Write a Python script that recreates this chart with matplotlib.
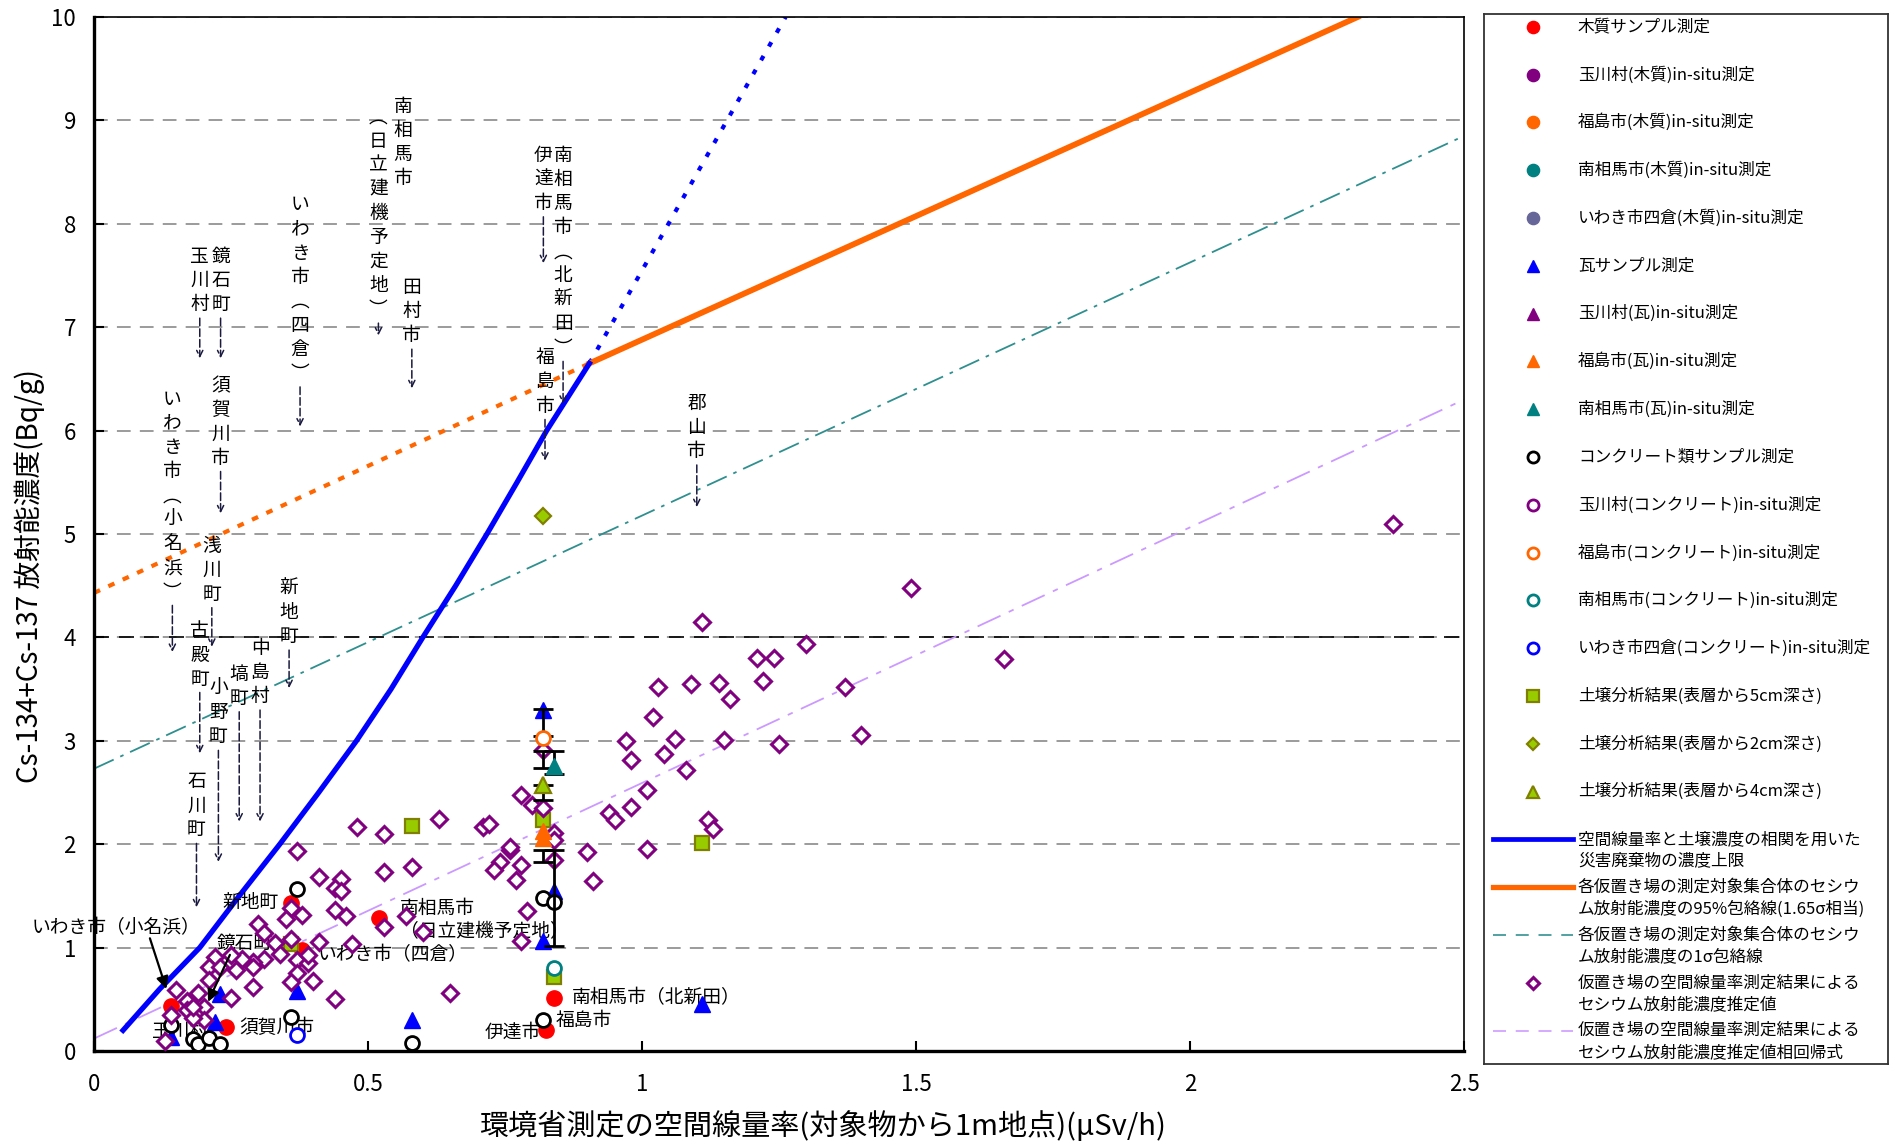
import matplotlib
matplotlib.use('Agg')
import matplotlib.pyplot as plt
import numpy as np

plt.rcParams['font.family'] = ['Noto Sans CJK JP', 'DejaVu Sans']

# ---------------- data ----------------
wood_x = [0.14, 0.24, 0.36, 0.38, 0.52, 0.84, 0.825]
wood_y = [0.44, 0.23, 1.43, 0.98, 1.29, 0.51, 0.20]

tile_x = [0.14, 0.22, 0.23, 0.37, 0.58, 0.82, 0.82, 0.84, 1.11]
tile_y = [0.14, 0.28, 0.55, 0.58, 0.30, 3.30, 1.06, 1.55, 0.45]

fuku_tile_x = [0.82, 0.82]
fuku_tile_y = [2.13, 2.06]
minami_tile_x = [0.84]
minami_tile_y = [2.76]

conc_x = [0.14, 0.18, 0.19, 0.21, 0.23, 0.36, 0.37, 0.58, 0.82, 0.82, 0.84]
conc_y = [0.25, 0.12, 0.07, 0.13, 0.07, 0.33, 1.57, 0.08, 0.30, 1.48, 1.44]
fuku_conc_x = [0.82]
fuku_conc_y = [3.03]
minami_conc_x = [0.84]
minami_conc_y = [0.80]
iwaki_conc_x = [0.37]
iwaki_conc_y = [0.15]

soil5_x = [0.36, 0.58, 0.82, 0.84, 1.11]
soil5_y = [1.03, 2.18, 2.23, 0.72, 2.01]
soil2_x = [0.82]
soil2_y = [5.17]
soil4_x = [0.82]
soil4_y = [2.57]

est_x = [2.37, 1.49, 1.11, 1.30, 1.66, 1.21, 1.24, 1.03, 1.09, 1.14, 1.22, 1.16, 1.37,
         1.02, 1.06, 1.15, 1.25, 1.40, 1.04, 1.08, 1.01, 1.12, 1.13, 1.01,
         0.97, 0.98, 0.94, 0.95, 0.98, 0.90, 0.91, 0.78, 0.80, 0.82, 0.82, 0.84, 0.84,
         0.84, 0.63, 0.71, 0.72, 0.76, 0.76, 0.74, 0.73, 0.78, 0.77, 0.58, 0.53, 0.53,
         0.79, 0.78, 0.60, 0.53, 0.65,
         0.48, 0.37, 0.41, 0.45, 0.44, 0.45, 0.44, 0.46, 0.36, 0.35, 0.38, 0.30, 0.31,
         0.57, 0.47, 0.41, 0.36, 0.33, 0.34, 0.31, 0.29, 0.27, 0.25, 0.22, 0.21, 0.23,
         0.26, 0.29, 0.37, 0.39, 0.39, 0.37, 0.36, 0.40, 0.29, 0.44, 0.25, 0.21, 0.19,
         0.17, 0.20, 0.15, 0.14, 0.17, 0.20, 0.13, 0.18, 0.18]
est_y = [5.10, 4.48, 4.15, 3.94, 3.79, 3.80, 3.80, 3.52, 3.55, 3.56, 3.58, 3.40, 3.52,
         3.23, 3.02, 3.01, 2.97, 3.06, 2.87, 2.72, 2.52, 2.23, 2.15, 1.95,
         3.00, 2.81, 2.30, 2.23, 2.36, 1.92, 1.64, 2.48, 2.38, 2.35, 2.91, 2.11, 2.04,
         1.85, 2.24, 2.17, 2.20, 1.94, 1.97, 1.83, 1.75, 1.80, 1.65, 1.78, 2.10, 1.73,
         1.35, 1.06, 1.15, 1.20, 0.56,
         2.17, 1.93, 1.68, 1.66, 1.58, 1.55, 1.36, 1.31, 1.38, 1.28, 1.32, 1.23, 1.14,
         1.31, 1.03, 1.05, 1.08, 1.04, 0.94, 0.89, 0.86, 0.89, 0.93, 0.91, 0.81, 0.81,
         0.78, 0.81, 0.88, 0.85, 0.93, 0.75, 0.67, 0.68, 0.62, 0.50, 0.51, 0.69, 0.56,
         0.48, 0.43, 0.59, 0.35, 0.40, 0.30, 0.10, 0.32, 0.43]

# error bars (x, lower, upper)
eb_x = [0.82, 0.82, 0.84, 0.82, 0.82, 0.84]
eb_lo = [3.05, 2.74, 2.68, 2.43, 1.83, 1.02]
eb_hi = [3.31, 2.90, 2.90, 2.57, 1.94, 1.94]

# lines
upper_x = [0.053, 0.120, 0.193, 0.265, 0.339, 0.410, 0.479, 0.542, 0.600, 0.660,
           0.717, 0.772, 0.826, 0.904]
upper_y = [0.20, 0.60, 1.00, 1.50, 2.00, 2.50, 3.00, 3.50, 4.00, 4.50,
           5.00, 5.50, 6.00, 6.65]
upper_ext_x = [0.904, 1.262]
upper_ext_y = [6.65, 10.0]
env95_x = [0.904, 2.306]
env95_y = [6.65, 10.0]
env95_ext_x = [0.0, 0.904]
env95_ext_y = [4.43, 6.65]
env1s_x = [0.0, 2.5]
env1s_y = [2.73, 8.85]
reg_x = [0.0, 2.5]
reg_y = [0.12, 6.30]

x_ticks = [0, 0.5, 1, 1.5, 2, 2.5]
x_ticklabels = ['0', '0.5', '1', '1.5', '2', '2.5']
y_ticks = list(range(11))

# vertical annotations: (text, x, top y, arrow target y)
vlabels = [
    ('玉川村', 0.193, 7.80, 6.70),
    ('鏡石町', 0.231, 7.80, 6.70),
    ('須賀川市', 0.231, 6.55, 5.20),
    ('いわき市︵小名浜︶', 0.143, 6.42, 3.86),
    ('いわき市︵四倉︶', 0.376, 8.30, 6.04),
    ('南相馬市', 0.564, 9.25, None),
    ('︵日立建機予定地︶', 0.519, 9.15, 6.92),
    ('田村市', 0.580, 7.50, 6.41),
    ('伊達市', 0.820, 8.78, 7.62),
    ('南相馬市︵北新田︶', 0.856, 8.78, 6.26),
    ('福島市', 0.823, 6.82, 5.71),
    ('郡山市', 1.100, 6.38, 5.26),
    ('浅川町', 0.215, 5.00, 3.91),
    ('古殿町', 0.193, 4.18, 2.88),
    ('小野町', 0.227, 3.62, 1.83),
    ('石川町', 0.187, 2.72, 1.39),
    ('塙町', 0.265, 3.76, 2.22),
    ('中島村', 0.303, 4.01, 2.22),
    ('新地町', 0.356, 4.59, 3.51),
]

# horizontal annotations: (text, x, y)
hlabels = [
    ('いわき市（小名浜）', -0.113, 1.19),
    ('鏡石町', 0.224, 1.04),
    ('新地町', 0.235, 1.44),
    ('南相馬市', 0.558, 1.38),
    ('（日立建機予定地）', 0.558, 1.15),
    ('いわき市（四倉）', 0.409, 0.93),
    ('須賀川市', 0.265, 0.23),
    ('玉川村', 0.105, 0.19),
    ('南相馬市（北新田）', 0.872, 0.52),
    ('福島市', 0.843, 0.30),
    ('伊達市', 0.713, 0.18),
]
harrows = [((0.102, 1.09), (0.132, 0.60)), ((0.248, 0.93), (0.208, 0.475))]

legend_labels = [
    '木質サンプル測定', '玉川村(木質)in-situ測定', '福島市(木質)in-situ測定',
    '南相馬市(木質)in-situ測定', 'いわき市四倉(木質)in-situ測定', '瓦サンプル測定',
    '玉川村(瓦)in-situ測定', '福島市(瓦)in-situ測定', '南相馬市(瓦)in-situ測定',
    'コンクリート類サンプル測定', '玉川村(コンクリート)in-situ測定',
    '福島市(コンクリート)in-situ測定', '南相馬市(コンクリート)in-situ測定',
    'いわき市四倉(コンクリート)in-situ測定', '土壌分析結果(表層から5cm深さ)',
    '土壌分析結果(表層から2cm深さ)', '土壌分析結果(表層から4cm深さ)',
    '空間線量率と土壌濃度の相関を用いた\n災害廃棄物の濃度上限',
    '各仮置き場の測定対象集合体のセシウ\nム放射能濃度の95%包絡線(1.65σ相当)',
    '各仮置き場の測定対象集合体のセシウ\nム放射能濃度の1σ包絡線',
    '仮置き場の空間線量率測定結果による\nセシウム放射能濃度推定値',
    '仮置き場の空間線量率測定結果による\nセシウム放射能濃度推定値相回帰式',
]

# ---------------- styles ----------------
RED = '#FF0000'; PURPLE = '#800080'; ORANGE = '#FF6600'; TEAL = '#008080'
SLATE = '#666699'; BLUE = '#0000FF'; OLIVE_F = '#99CC00'; OLIVE_E = '#808000'
TEAL_LINE = '#2F8F8F'; LAV = '#CC99FF'

def filled(c, m, ms):
    return dict(marker=m, ms=ms, mfc=c, mec=c, mew=1, ls='none')

def hollow(c, m, ms, mew=2):
    return dict(marker=m, ms=ms, mfc='white', mec=c, mew=mew, ls='none')

def soil(m, ms):
    return dict(marker=m, ms=ms, mfc=OLIVE_F, mec=OLIVE_E, mew=1.6, ls='none')

st = {
    'wood': filled(RED, 'o', 11),
    'tama_wood': filled(PURPLE, 'o', 11),
    'fuku_wood': filled(ORANGE, 'o', 11),
    'minami_wood': filled(TEAL, 'o', 11),
    'iwaki_wood': filled(SLATE, 'o', 11),
    'tile': filled(BLUE, '^', 11),
    'tama_tile': filled(PURPLE, '^', 11),
    'fuku_tile': filled(ORANGE, '^', 11),
    'minami_tile': filled(TEAL, '^', 11),
    'conc': hollow('black', 'o', 10),
    'tama_conc': hollow(PURPLE, 'o', 10),
    'fuku_conc': hollow(ORANGE, 'o', 10),
    'minami_conc': hollow(TEAL, 'o', 10),
    'iwaki_conc': hollow(BLUE, 'o', 10),
    'soil5': soil('s', 10),
    'soil2': soil('D', 8),
    'soil4': soil('^', 11),
    'upper': dict(color=BLUE, lw=3.8, ls='-'),
    'env95': dict(color=ORANGE, lw=4.2, ls='-'),
    'env1s': dict(color=TEAL_LINE, lw=1.3, ls=(0, (12, 4, 2, 4))),
    'est': hollow(PURPLE, 'D', 8, mew=2.2),
    'reg': dict(color=LAV, lw=1.3, ls=(0, (14, 5, 3, 5))),
}
legend_keys = ['wood', 'tama_wood', 'fuku_wood', 'minami_wood', 'iwaki_wood', 'tile',
               'tama_tile', 'fuku_tile', 'minami_tile', 'conc', 'tama_conc', 'fuku_conc',
               'minami_conc', 'iwaki_conc', 'soil5', 'soil2', 'soil4', 'upper', 'env95',
               'env1s', 'est', 'reg']

# ---------------- figure ----------------
W, H = 1892, 1145
fig = plt.figure(figsize=(W / 100, H / 100), dpi=100)
fig.patch.set_facecolor('white')
ax = fig.add_axes([94 / W, 1 - 1051 / H, 1370 / W, 1034 / H])
ax.set_xlim(0, 2.5)
ax.set_ylim(0, 10)

# grid
ax.set_axisbelow(True)
ax.set_yticks(y_ticks)
ax.set_yticklabels([str(v) for v in y_ticks])
ax.set_xticks(x_ticks)
ax.set_xticklabels(x_ticklabels)
ax.yaxis.grid(True, color='#808080', lw=1.1, ls=(0, (9, 6)))
ax.axhline(4, color='black', lw=1.2, ls=(0, (9, 6)), zorder=0.6)

for s in ['left', 'bottom']:
    ax.spines[s].set_linewidth(2.4)
for s in ['top', 'right']:
    ax.spines[s].set_linewidth(1.2)
ax.tick_params(axis='both', direction='in', length=7, width=1.5, labelsize=16)
ax.tick_params(axis='y', pad=13)
ax.tick_params(axis='x', pad=16)

ax.set_xlabel('環境省測定の空間線量率(対象物から1m地点)(μSv/h)', fontsize=21)
ax.xaxis.set_label_coords(0.532, -0.058)
ax.set_ylabel('Cs-134+Cs-137 放射能濃度(Bq/g)', fontsize=20)
ax.yaxis.set_label_coords(-0.036, 0.459)

# lines
ax.plot(env95_ext_x, env95_ext_y, color=ORANGE, lw=3, ls=(0, (1.6, 2.2)), zorder=2)
ax.plot(env1s_x, env1s_y, **st['env1s'], zorder=2)
ax.plot(reg_x, reg_y, **st['reg'], zorder=2)
ax.plot(env95_x, env95_y, **st['env95'], zorder=2.2)
ax.plot(upper_ext_x, upper_ext_y, color=BLUE, lw=3, ls=(0, (1.2, 2.6)), zorder=2.1)
ax.plot(upper_x, upper_y, **st['upper'], zorder=2.3, solid_joinstyle='round')

# annotations text (behind markers)
for txt, x, y in hlabels:
    ax.text(x, y, txt, fontsize=13.5, ha='left', va='center', zorder=2.5, clip_on=False)
for (x0, y0), (x1, y1) in harrows:
    ax.annotate('', xy=(x1, y1), xytext=(x0, y0),
                arrowprops=dict(arrowstyle='-|>', color='black', lw=1.6,
                                mutation_scale=18, shrinkA=0, shrinkB=0), zorder=5)

VPITCH = 0.233
for txt, x, ytop, ytar in vlabels:
    for i, ch in enumerate(txt):
        ax.text(x, ytop - (i + 0.5) * VPITCH, ch, fontsize=13.5, ha='center',
                va='center', zorder=4)
    if ytar is not None:
        ybot = ytop - len(txt) * VPITCH
        ax.annotate('', xy=(x, ytar), xytext=(x, ybot),
                    arrowprops=dict(arrowstyle='->', color='#1a1a40', lw=1.1,
                                    ls=(0, (5, 2)), mutation_scale=11,
                                    shrinkA=1, shrinkB=0), zorder=4)

# markers
ax.plot(wood_x, wood_y, **st['wood'], zorder=3)
ax.plot(tile_x, tile_y, **st['tile'], zorder=3)
ax.plot(conc_x, conc_y, **st['conc'], zorder=3)
ax.plot(soil5_x, soil5_y, **st['soil5'], zorder=3)
ax.plot(est_x, est_y, **st['est'], zorder=3.5)
ax.plot(soil2_x, soil2_y, **st['soil2'], zorder=3.6)

eb_x_arr = np.array(eb_x); eb_lo_arr = np.array(eb_lo); eb_hi_arr = np.array(eb_hi)
eb_mid = (eb_lo_arr + eb_hi_arr) / 2
ax.errorbar(eb_x_arr, eb_mid, yerr=[eb_mid - eb_lo_arr, eb_hi_arr - eb_mid], fmt='none',
            ecolor='black', elinewidth=2, capsize=7, capthick=2, zorder=3.7)
ax.plot(fuku_tile_x, fuku_tile_y, **st['fuku_tile'], zorder=3.8)
ax.plot(minami_tile_x, minami_tile_y, **st['minami_tile'], zorder=3.8)
ax.plot(soil4_x, soil4_y, **st['soil4'], zorder=3.8)
ax.plot(fuku_conc_x, fuku_conc_y, **st['fuku_conc'], zorder=3.8)
ax.plot(minami_conc_x, minami_conc_y, **st['minami_conc'], zorder=3.8)
ax.plot(iwaki_conc_x, iwaki_conc_y, **st['iwaki_conc'], zorder=3.8)

# ---------------- legend (drawn box) ----------------
lax = fig.add_axes([1484 / W, 1 - 1064 / H, 404 / W, 1050 / H])
lax.set_xlim(1484, 1888)
lax.set_ylim(1064, 14)
lax.set_xticks([]); lax.set_yticks([])
for s in lax.spines.values():
    s.set_linewidth(1.3)
    s.set_color('#333333')
for k, (key, lab) in enumerate(zip(legend_keys, legend_labels)):
    yy = 26.8 + k * 47.8
    style = dict(st[key])
    if 'marker' in style:
        style['ms'] = style['ms'] * 0.8
        lax.plot([1533], [yy], **style)
    else:
        lw = style.pop('lw')
        if key == 'env1s' or key == 'reg':
            style['ls'] = (0, (8, 6))
        lax.plot([1493, 1573], [yy, yy], lw=lw * 0.9, **style)
    for j, line in enumerate(lab.split('\n')):
        lax.text(1578, yy + j * 21.7, line, fontsize=12, ha='left', va='center')

fig.savefig('out.png', dpi=100, facecolor='white')
